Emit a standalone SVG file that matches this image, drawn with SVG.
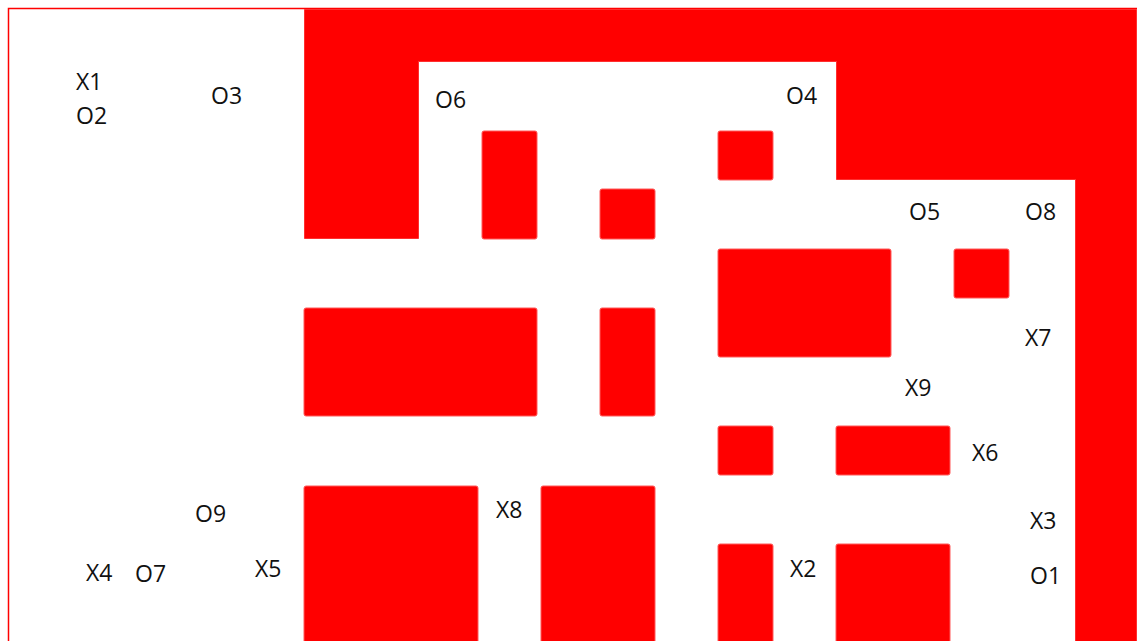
<svg xmlns="http://www.w3.org/2000/svg" width="1140" height="641" viewBox="0 0 1140 641">
<style>
.w{fill:#ff0000;stroke:#ff3030;stroke-width:1}
.b{fill:#ff0000;stroke:#ff5a5a;stroke-width:1}
.t{font-family:"Open Sans","Liberation Sans",sans-serif;font-size:23px;fill:#111111}
</style>
<rect width="1140" height="641" fill="#ffffff"/>
<path d="M8.5 641 V8.5 H1137" fill="none" stroke="#ff0000" stroke-width="1.5"/>
<g id="walls">
<path class="w" d="M304.5 9.5 H1136.5 V650 H1075.5 V179.5 H836.5 V61.5 H418.5 V238.5 H304.5 Z"/>
</g>
<g id="blocks">
<rect class="b" x="482" y="131" width="55" height="108" rx="2"/>
<rect class="b" x="600" y="189" width="55" height="50" rx="2"/>
<rect class="b" x="718" y="131" width="55" height="49" rx="2"/>
<rect class="b" x="718" y="249" width="173" height="108" rx="2"/>
<rect class="b" x="954" y="249" width="55" height="49" rx="2"/>
<rect class="b" x="304" y="308" width="233" height="108" rx="2"/>
<rect class="b" x="600" y="308" width="55" height="108" rx="2"/>
<rect class="b" x="718" y="426" width="55" height="49" rx="2"/>
<rect class="b" x="836" y="426" width="114" height="49" rx="2"/>
<rect class="b" x="304" y="486" width="174" height="170" rx="2"/>
<rect class="b" x="541" y="486" width="114" height="170" rx="2"/>
<rect class="b" x="718" y="544" width="55" height="110" rx="2"/>
<rect class="b" x="836" y="544" width="114" height="110" rx="2"/>
</g>
<g id="labels">
<text class="t" x="76" y="90">X1</text>
<text class="t" x="76" y="124">O2</text>
<text class="t" x="211" y="104">O3</text>
<text class="t" x="435" y="108">O6</text>
<text class="t" x="786" y="104">O4</text>
<text class="t" x="909" y="220">O5</text>
<text class="t" x="1025" y="220">O8</text>
<text class="t" x="1025" y="346">X7</text>
<text class="t" x="905" y="396">X9</text>
<text class="t" x="972" y="461">X6</text>
<text class="t" x="195" y="522">O9</text>
<text class="t" x="496" y="518">X8</text>
<text class="t" x="1030" y="529">X3</text>
<text class="t" x="86" y="581">X4</text>
<text class="t" x="135" y="582">O7</text>
<text class="t" x="255" y="577">X5</text>
<text class="t" x="790" y="577">X2</text>
<text class="t" x="1030" y="584">O1</text>
</g>
</svg>
